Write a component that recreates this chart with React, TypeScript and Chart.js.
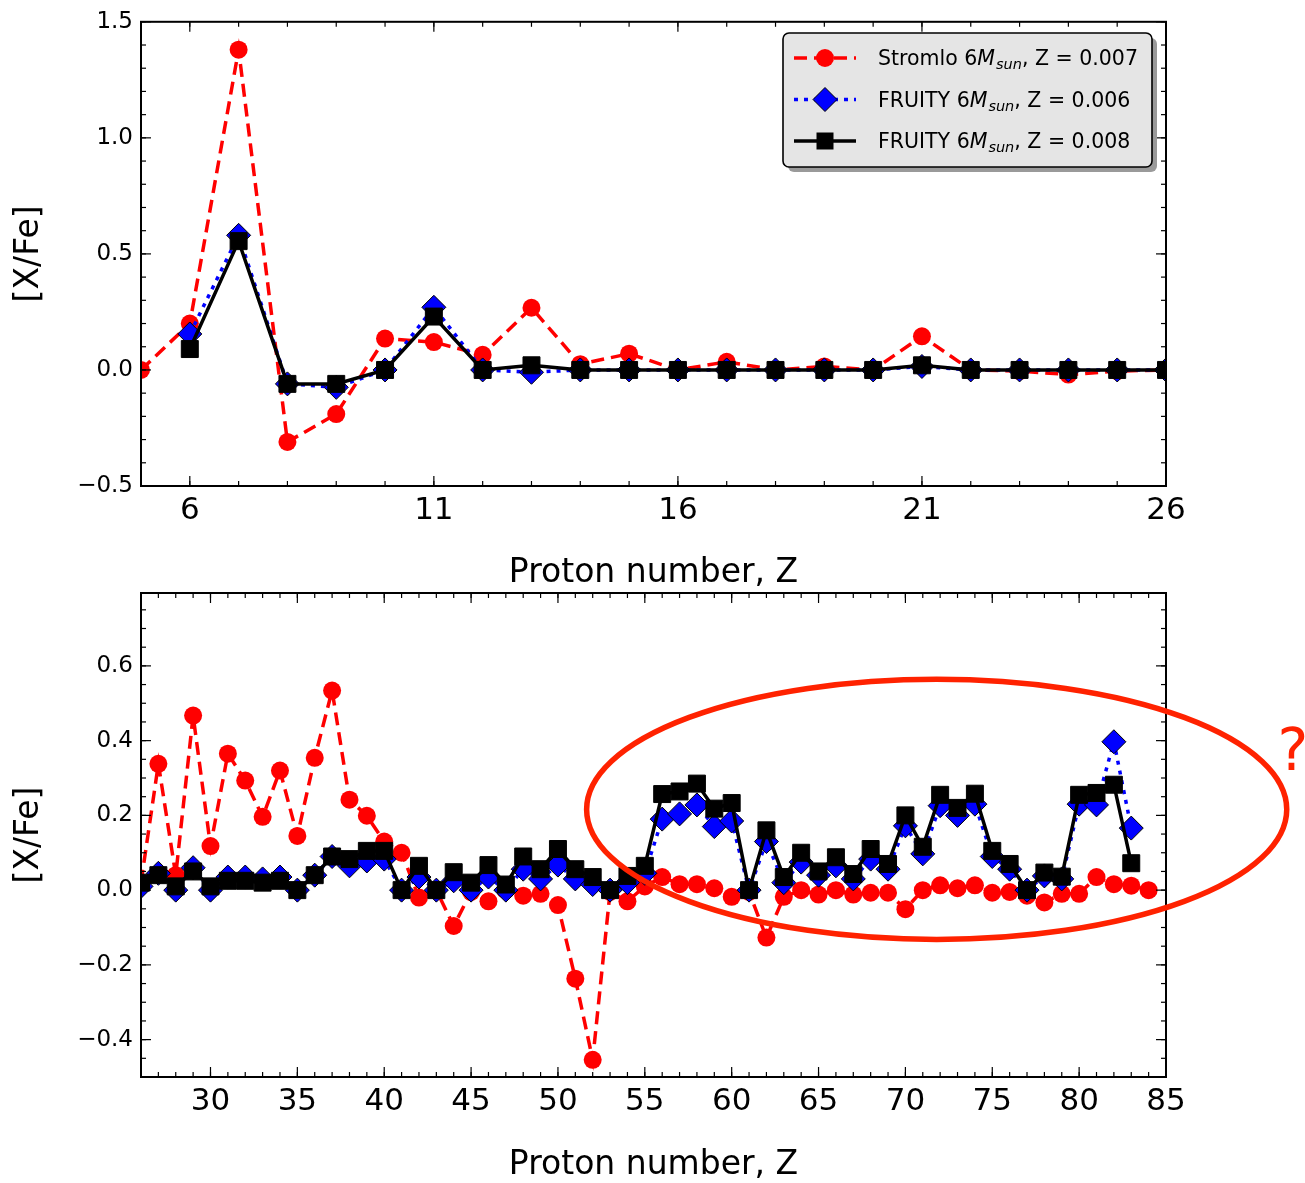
import React, { useEffect, useRef } from "react";
import { Chart, registerables } from "chart.js";

Chart.register(...registerables);

const FONT = "'DejaVu Sans', 'Liberation Sans', sans-serif";

// ---------------- Top panel: light elements ----------------
const TOP_Z_STROMLO = [5, 6, 7, 8, 9, 10, 11, 12, 13, 14, 15, 16, 17, 18, 19, 20, 21, 22, 23, 24, 25, 26];
const TOP_STROMLO = [0.0, 0.2, 1.38, -0.31, -0.19, 0.135, 0.12, 0.065, 0.268, 0.025, 0.07, 0.0, 0.035, 0.0, 0.015, 0.0, 0.145, 0.0, -0.005, -0.02, -0.005, 0.0];
const TOP_Z_FRUITY = [6, 7, 8, 9, 10, 11, 12, 13, 14, 15, 16, 17, 18, 19, 20, 21, 22, 23, 24, 25, 26];
const TOP_FRUITY_006 = [0.155, 0.58, -0.06, -0.075, 0.0, 0.27, 0.0, -0.01, 0.0, 0.0, 0.0, 0.0, 0.0, 0.0, 0.0, 0.015, 0.0, 0.0, 0.0, 0.0, 0.0];
const TOP_FRUITY_008 = [0.09, 0.555, -0.06, -0.06, 0.0, 0.23, 0.0, 0.02, 0.0, 0.0, 0.0, 0.0, 0.0, 0.0, 0.0, 0.02, 0.0, 0.0, 0.0, 0.0, 0.0];
const TOP_X_TICKS = [6, 11, 16, 21, 26];
const TOP_Y_TICKS = [-0.5, 0.0, 0.5, 1.0, 1.5];

// ---------------- Bottom panel: heavy elements ----------------
const BOT_Z_STROMLO = [26, 27, 28, 29, 30, 31, 32, 33, 34, 35, 36, 37, 38, 39, 40, 41, 42, 43, 44, 45, 46, 47, 48, 49, 50, 51, 52, 53, 54, 55, 56, 57, 58, 59, 60, 61, 62, 63, 64, 65, 66, 67, 68, 69, 70, 71, 72, 73, 74, 75, 76, 77, 78, 79, 80, 81, 82, 83, 84];
const BOT_STROMLO = [0.02, 0.338, 0.04, 0.467, 0.118, 0.365, 0.293, 0.196, 0.32, 0.145, 0.354, 0.534, 0.242, 0.199, 0.13, 0.1, -0.02, 0.0, -0.096, -0.005, -0.03, 0.0, -0.015, -0.01, -0.04, -0.237, -0.454, -0.005, -0.03, 0.01, 0.035, 0.016, 0.016, 0.005, -0.018, -0.005, -0.127, -0.018, 0.0, -0.012, 0.0, -0.012, -0.007, -0.007, -0.051, 0.0, 0.013, 0.005, 0.013, -0.007, -0.005, -0.015, -0.033, -0.01, -0.01, 0.035, 0.016, 0.012, 0.0];
const BOT_Z_FRUITY = [26, 27, 28, 29, 30, 31, 32, 33, 34, 35, 36, 37, 38, 39, 40, 41, 42, 43, 44, 45, 46, 47, 48, 49, 50, 51, 52, 53, 54, 55, 56, 57, 58, 59, 60, 61, 62, 63, 64, 65, 66, 67, 68, 69, 70, 71, 72, 73, 74, 75, 76, 77, 78, 79, 80, 81, 82, 83];
const BOT_FRUITY_006 = [0.01, 0.045, 0.0, 0.06, 0.0, 0.035, 0.035, 0.03, 0.035, 0.0, 0.04, 0.09, 0.065, 0.078, 0.083, 0.0, 0.035, 0.0, 0.025, 0.0, 0.035, 0.0, 0.056, 0.03, 0.067, 0.03, 0.015, 0.0, 0.02, 0.045, 0.19, 0.204, 0.228, 0.17, 0.185, 0.0, 0.13, 0.02, 0.075, 0.04, 0.065, 0.03, 0.083, 0.056, 0.172, 0.097, 0.226, 0.2, 0.23, 0.09, 0.056, 0.0, 0.038, 0.03, 0.23, 0.228, 0.397, 0.166];
const BOT_FRUITY_008 = [0.02, 0.04, 0.01, 0.05, 0.01, 0.025, 0.025, 0.02, 0.025, 0.0, 0.04, 0.09, 0.083, 0.105, 0.105, 0.0, 0.065, 0.0, 0.048, 0.02, 0.067, 0.015, 0.09, 0.056, 0.11, 0.056, 0.035, 0.0, 0.038, 0.065, 0.257, 0.264, 0.285, 0.218, 0.233, 0.0, 0.16, 0.035, 0.1, 0.05, 0.088, 0.043, 0.11, 0.07, 0.2, 0.116, 0.255, 0.22, 0.258, 0.105, 0.07, 0.0, 0.047, 0.036, 0.255, 0.26, 0.282, 0.072];
const BOT_X_TICKS = [30, 35, 40, 45, 50, 55, 60, 65, 70, 75, 80, 85];
const BOT_Y_TICKS = [-0.4, -0.2, 0.0, 0.2, 0.4, 0.6];

// legend texts (mathtext-like: prefix, italic M, subscript, suffix)
const LEGEND_PREFIX = ["Stromlo 6", "FRUITY 6", "FRUITY 6"];
const LEGEND_MATH = "M";
const LEGEND_SUB = "sun";
const LEGEND_SUFFIX = [", Z = 0.007", ", Z = 0.006", ", Z = 0.008"];

const X_TITLE = "Proton number, Z";
const Y_TITLE = "[X/Fe]";

// annotation (data coords of bottom panel)
const ELLIPSE = { cx: 71.8, cy: 0.216, rx: 20.15, ry: 0.348 };
const QMARK = { x: 92.3, y: 0.362, text: "?" };

const RED = "#ff0000";
const BLUE = "#0000ff";
const ANNOT = "#ff2200";

type Panel = {
  width: number;
  height: number;
  top: number;
  xMin: number;
  xMax: number;
  yMin: number;
  yMax: number;
  xTicks: number[];
  yTicks: number[];
  xMinor: number;
  yMinor: number;
  padTop: number;
  padRight: number;
  yAxisW: number;
  xAxisH: number;
  xTitlePad: number;
};

const TOP_PANEL: Panel = {
  width: 1305, height: 590, top: 0, xMin: 5, xMax: 26, yMin: -0.5, yMax: 1.5,
  xTicks: TOP_X_TICKS, yTicks: TOP_Y_TICKS, xMinor: 1, yMinor: 0.1,
  padTop: 20, padRight: 139, yAxisW: 141, xAxisH: 104, xTitlePad: 0,
};
const BOT_PANEL: Panel = {
  width: 1305, height: 623, top: 560, xMin: 26, xMax: 85, yMin: -0.5, yMax: 0.795,
  xTicks: BOT_X_TICKS, yTicks: BOT_Y_TICKS, xMinor: 1, yMinor: 0.05,
  padTop: 33, padRight: 139, yAxisW: 141, xAxisH: 106, xTitlePad: 1,
};

function fmtY(v: number) {
  if (Math.abs(v) < 1e-9) return "0.0";
  return v < 0 ? "\u2212" + Math.abs(v).toFixed(1) : v.toFixed(1);
}

function toXY(xs: number[], ys: number[]) {
  return ys.map((y, i) => ({ x: xs[i], y }));
}

function makeDatasets(zs: number[], s: number[], zf: number[], f6: number[], f8: number[]) {
  return [
    {
      label: "Stromlo",
      data: toXY(zs, s),
      borderColor: RED,
      backgroundColor: RED,
      borderWidth: 3.5,
      borderDash: [13, 7],
      pointStyle: "circle",
      pointRadius: 9,
      pointBackgroundColor: RED,
      pointBorderColor: RED,
      pointBorderWidth: 0,
      order: 3,
      clip: 0,
    },
    {
      label: "FRUITY 0.006",
      data: toXY(zf, f6),
      borderColor: BLUE,
      backgroundColor: BLUE,
      borderWidth: 3.5,
      borderDash: [4, 6],
      pointStyle: "rectRot",
      pointRadius: 12,
      pointBackgroundColor: BLUE,
      pointBorderColor: "#000",
      pointBorderWidth: 1,
      order: 2,
      clip: 0,
    },
    {
      label: "FRUITY 0.008",
      data: toXY(zf, f8),
      borderColor: "#000",
      backgroundColor: "#000",
      borderWidth: 3.5,
      pointStyle: "rect",
      pointRadius: 12,
      pointBackgroundColor: "#000",
      pointBorderColor: "#000",
      pointBorderWidth: 1,
      order: 1,
      clip: 0,
    },
  ];
}

function framePlugin(p: Panel) {
  return {
    id: "frameTicks",
    afterDatasetsDraw(chart: any) {
      const { ctx, chartArea } = chart;
      const { left, right, top, bottom } = chartArea;
      const xs = chart.scales.x;
      const ys = chart.scales.y;
      ctx.save();
      ctx.strokeStyle = "#000";
      ctx.lineWidth = 1.2;
      const line = (x1: number, y1: number, x2: number, y2: number) => {
        ctx.beginPath();
        ctx.moveTo(x1, y1);
        ctx.lineTo(x2, y2);
        ctx.stroke();
      };
      const xTick = (v: number, len: number) => {
        const px = xs.getPixelForValue(v);
        line(px, bottom, px, bottom - len);
        line(px, top, px, top + len);
      };
      const yTick = (v: number, len: number) => {
        const py = ys.getPixelForValue(v);
        line(left, py, left + len, py);
        line(right, py, right - len, py);
      };
      const nx = Math.round((p.xMax - p.xMin) / p.xMinor);
      for (let i = 0; i <= nx; i++) xTick(p.xMin + i * p.xMinor, 5);
      const y0 = Math.ceil(p.yMin / p.yMinor - 1e-9) * p.yMinor;
      const ny = Math.floor((p.yMax - y0) / p.yMinor + 1e-9);
      for (let i = 0; i <= ny; i++) yTick(y0 + i * p.yMinor, 5);
      p.xTicks.forEach((v) => xTick(v, 10));
      p.yTicks.forEach((v) => yTick(v, 10));
      ctx.lineWidth = 2;
      ctx.strokeRect(left, top, right - left, bottom - top);
      ctx.restore();
    },
  };
}

const legendPlugin = {
  id: "mplLegend",
  afterDraw(chart: any) {
    const { ctx } = chart;
    const bx = 783, by = 33, bw = 369, bh = 134;
    ctx.save();
    const rr = (x: number, y: number, w: number, h: number, r: number) => {
      ctx.beginPath();
      ctx.moveTo(x + r, y);
      ctx.lineTo(x + w - r, y);
      ctx.arcTo(x + w, y, x + w, y + r, r);
      ctx.lineTo(x + w, y + h - r);
      ctx.arcTo(x + w, y + h, x + w - r, y + h, r);
      ctx.lineTo(x + r, y + h);
      ctx.arcTo(x, y + h, x, y + h - r, r);
      ctx.lineTo(x, y + r);
      ctx.arcTo(x, y, x + r, y, r);
      ctx.closePath();
    };
    // shadow
    rr(bx + 5, by + 5, bw, bh, 6);
    ctx.fillStyle = "#9a9a9a";
    ctx.fill();
    rr(bx, by, bw, bh, 6);
    ctx.fillStyle = "#e5e5e5";
    ctx.fill();
    ctx.lineWidth = 1.6;
    ctx.strokeStyle = "#000";
    ctx.stroke();

    const rows = [58, 99.5, 141];
    const lx1 = 794, lx2 = 856, mx = 825, tx = 878;
    const dsets = chart.data.datasets;
    rows.forEach((ry, i) => {
      const ds = dsets[i];
      ctx.save();
      ctx.strokeStyle = ds.borderColor;
      ctx.lineWidth = ds.borderWidth;
      ctx.setLineDash(ds.borderDash || []);
      ctx.beginPath();
      ctx.moveTo(lx1, ry);
      ctx.lineTo(lx2, ry);
      ctx.stroke();
      ctx.setLineDash([]);
      ctx.fillStyle = ds.pointBackgroundColor;
      ctx.strokeStyle = ds.pointBorderColor;
      ctx.lineWidth = 1;
      ctx.beginPath();
      if (ds.pointStyle === "circle") {
        ctx.arc(mx, ry, 9, 0, Math.PI * 2);
        ctx.fill();
      } else if (ds.pointStyle === "rectRot") {
        ctx.moveTo(mx, ry - 12);
        ctx.lineTo(mx + 12, ry);
        ctx.lineTo(mx, ry + 12);
        ctx.lineTo(mx - 12, ry);
        ctx.closePath();
        ctx.fill();
        ctx.stroke();
      } else {
        ctx.rect(mx - 8.5, ry - 8.5, 17, 17);
        ctx.fill();
      }
      ctx.restore();

      // text
      ctx.fillStyle = "#000";
      ctx.textBaseline = "alphabetic";
      ctx.textAlign = "left";
      const base = ry + 7;
      let x = tx;
      ctx.font = `20.5px ${FONT}`;
      ctx.fillText(LEGEND_PREFIX[i], x, base);
      x += ctx.measureText(LEGEND_PREFIX[i]).width;
      ctx.font = `italic 20.5px ${FONT}`;
      ctx.fillText(LEGEND_MATH, x, base);
      x += ctx.measureText(LEGEND_MATH).width + 1;
      ctx.font = `italic 14.5px ${FONT}`;
      ctx.fillText(LEGEND_SUB, x, base + 4);
      x += ctx.measureText(LEGEND_SUB).width;
      ctx.font = `20.5px ${FONT}`;
      ctx.fillText(LEGEND_SUFFIX[i], x, base);
    });
    ctx.restore();
  },
};

const annotPlugin = {
  id: "ellipseNote",
  afterDraw(chart: any) {
    const { ctx } = chart;
    const xs = chart.scales.x;
    const ys = chart.scales.y;
    const cx = xs.getPixelForValue(ELLIPSE.cx);
    const cy = ys.getPixelForValue(ELLIPSE.cy);
    const rx = xs.getPixelForValue(ELLIPSE.cx + ELLIPSE.rx) - cx;
    const ry = cy - ys.getPixelForValue(ELLIPSE.cy + ELLIPSE.ry);
    ctx.save();
    ctx.strokeStyle = ANNOT;
    ctx.lineWidth = 5.5;
    ctx.beginPath();
    ctx.ellipse(cx, cy, rx, ry, 0, 0, Math.PI * 2);
    ctx.stroke();
    ctx.fillStyle = ANNOT;
    ctx.font = `58px ${FONT}`;
    ctx.textAlign = "center";
    ctx.textBaseline = "middle";
    ctx.fillText(QMARK.text, xs.getPixelForValue(QMARK.x), ys.getPixelForValue(QMARK.y));
    ctx.restore();
  },
};

function buildChart(canvas: HTMLCanvasElement, p: Panel, datasets: any[], plugins: any[]) {
  return new Chart(canvas, {
    type: "line",
    data: { datasets },
    plugins: [framePlugin(p), ...plugins],
    options: {
      responsive: false,
      animation: false,
      events: [],
      layout: { padding: { top: p.padTop, right: p.padRight, left: 0, bottom: 0 } },
      plugins: { legend: { display: false }, tooltip: { enabled: false } },
      scales: {
        x: {
          type: "linear",
          min: p.xMin,
          max: p.xMax,
          grid: { display: false, drawTicks: false },
          border: { display: false },
          afterBuildTicks: (s: any) => {
            s.ticks = p.xTicks.map((v) => ({ value: v }));
          },
          afterFit: (s: any) => {
            s.height = p.xAxisH;
          },
          ticks: {
            autoSkip: false,
            maxRotation: 0,
            padding: 6,
            color: "#000",
            font: { family: FONT, size: 31 },
            callback: (v: any) => String(v),
          },
          title: {
            display: true,
            text: X_TITLE,
            color: "#000",
            font: { family: FONT, size: 33, lineHeight: 1 },
            padding: { top: 0, bottom: p.xTitlePad },
          },
        },
        y: {
          type: "linear",
          min: p.yMin,
          max: p.yMax,
          grid: { display: false, drawTicks: false },
          border: { display: false },
          afterBuildTicks: (s: any) => {
            s.ticks = p.yTicks.map((v) => ({ value: v }));
          },
          afterFit: (s: any) => {
            s.width = p.yAxisW;
          },
          ticks: {
            autoSkip: false,
            padding: 8,
            color: "#000",
            font: { family: FONT, size: 23 },
            callback: (v: any) => fmtY(Number(v)),
          },
          title: {
            display: true,
            text: Y_TITLE,
            color: "#000",
            font: { family: FONT, size: 33, lineHeight: 1 },
            padding: { top: 13, bottom: 0 },
          },
        },
      },
    } as any,
  });
}

export default function App() {
  const topRef = useRef<HTMLCanvasElement>(null);
  const botRef = useRef<HTMLCanvasElement>(null);

  useEffect(() => {
    Chart.defaults.color = "#000";
    Chart.defaults.font.family = FONT;
    const c1 = buildChart(
      topRef.current!,
      TOP_PANEL,
      makeDatasets(TOP_Z_STROMLO, TOP_STROMLO, TOP_Z_FRUITY, TOP_FRUITY_006, TOP_FRUITY_008),
      [legendPlugin]
    );
    const c2 = buildChart(
      botRef.current!,
      BOT_PANEL,
      makeDatasets(BOT_Z_STROMLO, BOT_STROMLO, BOT_Z_FRUITY, BOT_FRUITY_006, BOT_FRUITY_008),
      [annotPlugin]
    );
    return () => {
      c1.destroy();
      c2.destroy();
    };
  }, []);

  return (
    <div style={{ position: "absolute", left: 0, top: 0, width: 1305, height: 1183, background: "#fff", overflow: "hidden" }}>
      <canvas
        ref={topRef}
        width={TOP_PANEL.width}
        height={TOP_PANEL.height}
        style={{ position: "absolute", left: 0, top: TOP_PANEL.top, width: TOP_PANEL.width, height: TOP_PANEL.height }}
      />
      <canvas
        ref={botRef}
        width={BOT_PANEL.width}
        height={BOT_PANEL.height}
        style={{ position: "absolute", left: 0, top: BOT_PANEL.top, width: BOT_PANEL.width, height: BOT_PANEL.height }}
      />
    </div>
  );
}
